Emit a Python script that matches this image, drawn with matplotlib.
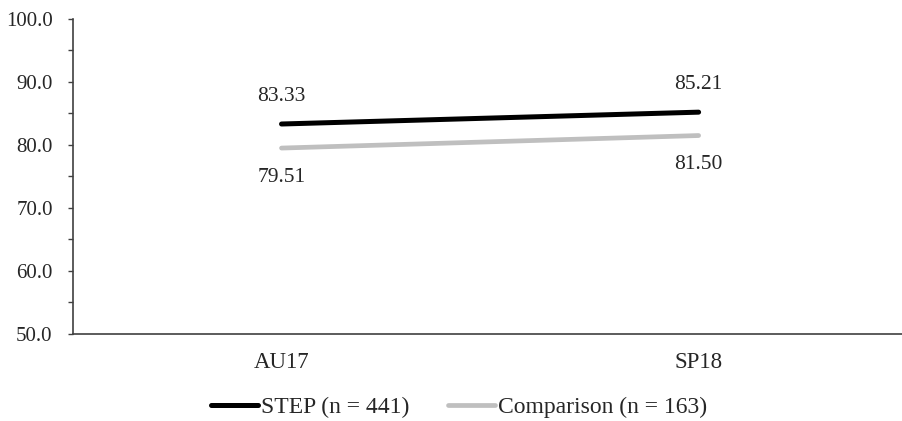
import numpy as np
import matplotlib
matplotlib.use('Agg')
import matplotlib.pyplot as plt
from matplotlib.ticker import MultipleLocator, FormatStrFormatter

# Scores per term for each group
terms = ['AU17', 'SP18']
step_scores = [83.33, 85.21]
comparison_scores = [79.51, 81.50]
step_label = 'STEP (n = 441)'
comparison_label = 'Comparison (n = 163)'

plt.rcParams['font.family'] = ['Liberation Serif', 'DejaVu Serif']
text_col = '#262626'

fig = plt.figure(figsize=(9.03, 4.21), dpi=100)
ax = fig.add_axes([0.0808, 0.2067, 0.9192, 0.7482])

x = np.arange(len(terms))
ax.plot(x, step_scores, color='black', lw=3.6, solid_capstyle='round', label=step_label)
ax.plot(x, comparison_scores, color='#bfbfbf', lw=3.4, solid_capstyle='round', label=comparison_label)

# value labels: above the STEP line, below the comparison line
for xi, v in zip(x, step_scores):
    ax.annotate(f'{v:.2f}', (xi, v), xytext=(0, 20), textcoords='offset points',
                ha='center', va='center', fontsize=15.5, color=text_col)
for xi, v in zip(x, comparison_scores):
    ax.annotate(f'{v:.2f}', (xi, v), xytext=(0, -21), textcoords='offset points',
                ha='center', va='center', fontsize=15.5, color=text_col)

ax.set_xlim(-0.5, 1.49)
ax.set_ylim(50, 100)
ax.set_xticks(x)
ax.set_xticklabels(terms)
ax.yaxis.set_major_locator(MultipleLocator(10))
ax.yaxis.set_minor_locator(MultipleLocator(5))
ax.yaxis.set_major_formatter(FormatStrFormatter('%.1f'))

for s in ['top', 'right']:
    ax.spines[s].set_visible(False)
for s in ['left', 'bottom']:
    ax.spines[s].set_color('#404040')
    ax.spines[s].set_linewidth(1.2)

ax.tick_params(axis='y', which='both', length=3.6, width=1.0, color='#404040',
               labelsize=15, labelcolor=text_col, pad=11)
ax.tick_params(axis='x', length=0, labelsize=16.5, labelcolor=text_col, pad=13)

fig.legend(loc='center', bbox_to_anchor=(459 / 903, 1 - 407 / 421), ncol=2,
           frameon=False, fontsize=17, handlelength=2.0, handletextpad=0.13,
           columnspacing=1.6, labelcolor=text_col)

fig.savefig('out.png', dpi=100)
